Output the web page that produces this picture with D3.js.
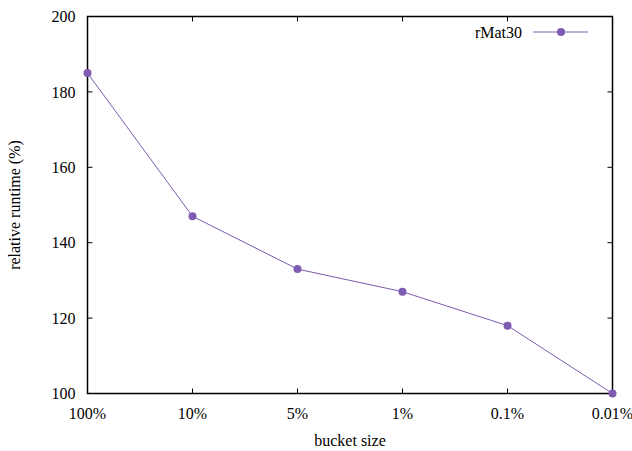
<!DOCTYPE html>
<html><head><meta charset="utf-8">
<script src="https://cdn.jsdelivr.net/npm/d3@7/dist/d3.min.js"></script>
<style>body{margin:0;background:#fff}</style>
</head><body><svg id="c" width="632" height="451"></svg>
<script>
const categories = ["100%","10%","5%","1%","0.1%","0.01%"];
const values = [185,147,133,127,118,100];
const yTicks = [100,120,140,160,180,200];
const seriesName = "rMat30";
const color = "#7d5cb2";
const FONT = "Liberation Serif";

const svg = d3.select("#c");
const L=87.5,R=612.5,T=16.5,B=393.5;
const x = d3.scalePoint().domain(categories).range([L,R]);
const y = d3.scaleLinear().domain([100,200]).range([B,T]);
const fs = 16;
function txt(sel){return sel.attr("font-family",FONT).attr("font-size",fs).attr("fill","#000");}

const g = svg.append("g");
yTicks.forEach(t=>{
  g.append("line").attr("x1",L).attr("x2",L+5).attr("y1",y(t)).attr("y2",y(t)).attr("stroke","#000");
  g.append("line").attr("x1",R).attr("x2",R-5).attr("y1",y(t)).attr("y2",y(t)).attr("stroke","#000");
  txt(g.append("text")).attr("x",L-12).attr("y",y(t)).attr("dy","0.35em").attr("text-anchor","end").text(t);
});
categories.forEach(c=>{
  g.append("line").attr("x1",x(c)).attr("x2",x(c)).attr("y1",B).attr("y2",B-5).attr("stroke","#000");
  g.append("line").attr("x1",x(c)).attr("x2",x(c)).attr("y1",T).attr("y2",T+5).attr("stroke","#000");
  txt(g.append("text")).attr("x",x(c)).attr("y",B+25).attr("text-anchor","middle").text(c);
});
g.append("rect").attr("x",L).attr("y",T).attr("width",R-L).attr("height",B-T).attr("fill","none").attr("stroke","#000").attr("stroke-width",1.5);

const line = d3.line().x((d,i)=>x(categories[i])).y(d=>y(d));
svg.append("path").datum(values).attr("d",line).attr("fill","none").attr("stroke",color).attr("stroke-width",1);
svg.selectAll("circle.p").data(values).enter().append("circle").attr("class","p")
  .attr("cx",(d,i)=>x(categories[i])).attr("cy",d=>y(d)).attr("r",4).attr("fill",color);

txt(svg.append("text")).attr("x",522).attr("y",32).attr("dy","0.35em").attr("text-anchor","end").text(seriesName);
svg.append("line").attr("x1",533).attr("x2",588).attr("y1",32).attr("y2",32).attr("stroke",color);
svg.append("circle").attr("cx",561).attr("cy",32).attr("r",4).attr("fill",color);

txt(svg.append("text")).attr("x",(L+R)/2).attr("y",446).attr("text-anchor","middle").text("bucket size");
txt(svg.append("text")).attr("transform",`translate(20,${(T+B)/2}) rotate(-90)`).attr("text-anchor","middle").text("relative runtime (%)");
</script></body></html>
